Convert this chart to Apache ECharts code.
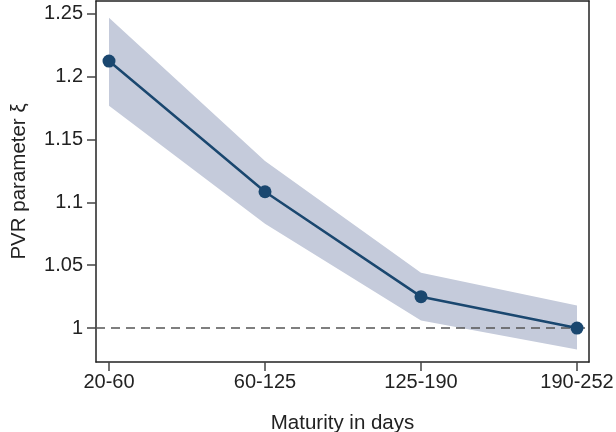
<!DOCTYPE html>
<html>
<head>
<meta charset="utf-8">
<script src="https://cdn.jsdelivr.net/npm/echarts@6.0.0/dist/echarts.min.js"></script>
<style>
  html, body { margin: 0; padding: 0; background: #fff; }
  #chart { width: 616px; height: 432px; }
</style>
</head>
<body>
<div id="chart"></div>
<script>
// maturity buckets and estimates
const categories = ['20-60', '60-125', '125-190', '190-252']
const estimate = [1.2125, 1.1085, 1.025, 1.0]
const upper = [1.247, 1.133, 1.044, 1.018]
const lower = [1.177, 1.083, 1.006, 0.983]
const yTicks = [1, 1.05, 1.1, 1.15, 1.2, 1.25]

const navy = '#1a476f'
const band = '#c5cbdb'

let chart = echarts.init(document.getElementById('chart'))
let idx = categories.map((c, i) => i)

// confidence band drawn as one polygon (upper edge then lower edge back)
function renderBand (params, api) {
  if (params.dataIndex !== 0) return
  let pts = []
  for (let i = 0; i < idx.length; i++) pts.push(api.coord([idx[i], upper[i]]))
  for (let i = idx.length - 1; i >= 0; i--) pts.push(api.coord([idx[i], lower[i]]))
  return {
    type: 'polygon',
    shape: { points: pts },
    style: { fill: band }
  }
}

let axisLineStyle = { color: '#222', width: 1.5 }
let option = {
  animation: false,
  textStyle: { fontFamily: 'Liberation Sans, Arial, sans-serif' },
  grid: { left: 96, right: 27, top: 1, bottom: 70, containLabel: false, outerBoundsMode: 'none' },
  xAxis: [
    {
      type: 'value',
      min: -13 / 156,
      max: 3 + 12 / 156,
      name: 'Maturity in days',
      nameLocation: 'middle',
      nameGap: 51,
      nameTextStyle: { fontSize: 20.5, color: '#222' },
      axisLine: { show: true, onZero: false, lineStyle: axisLineStyle },
      axisTick: { show: true, length: 9, customValues: idx, lineStyle: { color: '#444', width: 1.5 } },
      axisLabel: {
        customValues: idx,
        margin: 10,
        fontSize: 20,
        color: '#222',
        formatter: v => categories[Math.round(v)]
      },
      splitLine: { show: false }
    },
    {
      // top frame line
      type: 'value',
      position: 'top',
      min: -13 / 156,
      max: 3 + 12 / 156,
      axisLine: { show: true, onZero: false, lineStyle: axisLineStyle },
      axisTick: { show: false },
      axisLabel: { show: false },
      splitLine: { show: false }
    }
  ],
  yAxis: [
    {
      type: 'value',
      min: 0.973,
      max: 1.2603,
      name: 'PVR parameter ξ',
      nameLocation: 'middle',
      nameGap: 66,
      nameTextStyle: { fontSize: 20.5, color: '#222' },
      axisLine: { show: true, onZero: false, lineStyle: axisLineStyle },
      axisTick: { show: true, length: 9, customValues: yTicks, lineStyle: { color: '#444', width: 1.5 } },
      axisLabel: { customValues: yTicks, margin: 13, fontSize: 20, color: '#222' },
      splitLine: { show: false }
    },
    {
      // right frame line
      type: 'value',
      position: 'right',
      min: 0.973,
      max: 1.2603,
      axisLine: { show: true, onZero: false, lineStyle: axisLineStyle },
      axisTick: { show: false },
      axisLabel: { show: false },
      splitLine: { show: false }
    }
  ],
  series: [
    {
      type: 'custom',
      renderItem: renderBand,
      data: idx.map(i => [i, estimate[i]]),
      silent: true,
      z: 1,
      markLine: {
        silent: true,
        symbol: 'none',
        label: { show: false },
        lineStyle: { color: '#555', type: [9, 6], width: 1.5 },
        data: [{ yAxis: 1 }]
      }
    },
    {
      type: 'line',
      data: idx.map(i => [i, estimate[i]]),
      symbol: 'circle',
      symbolSize: 13,
      itemStyle: { color: navy },
      lineStyle: { color: navy, width: 2.5 },
      z: 5
    }
  ]
}
chart.setOption(option)
</script>
</body>
</html>
